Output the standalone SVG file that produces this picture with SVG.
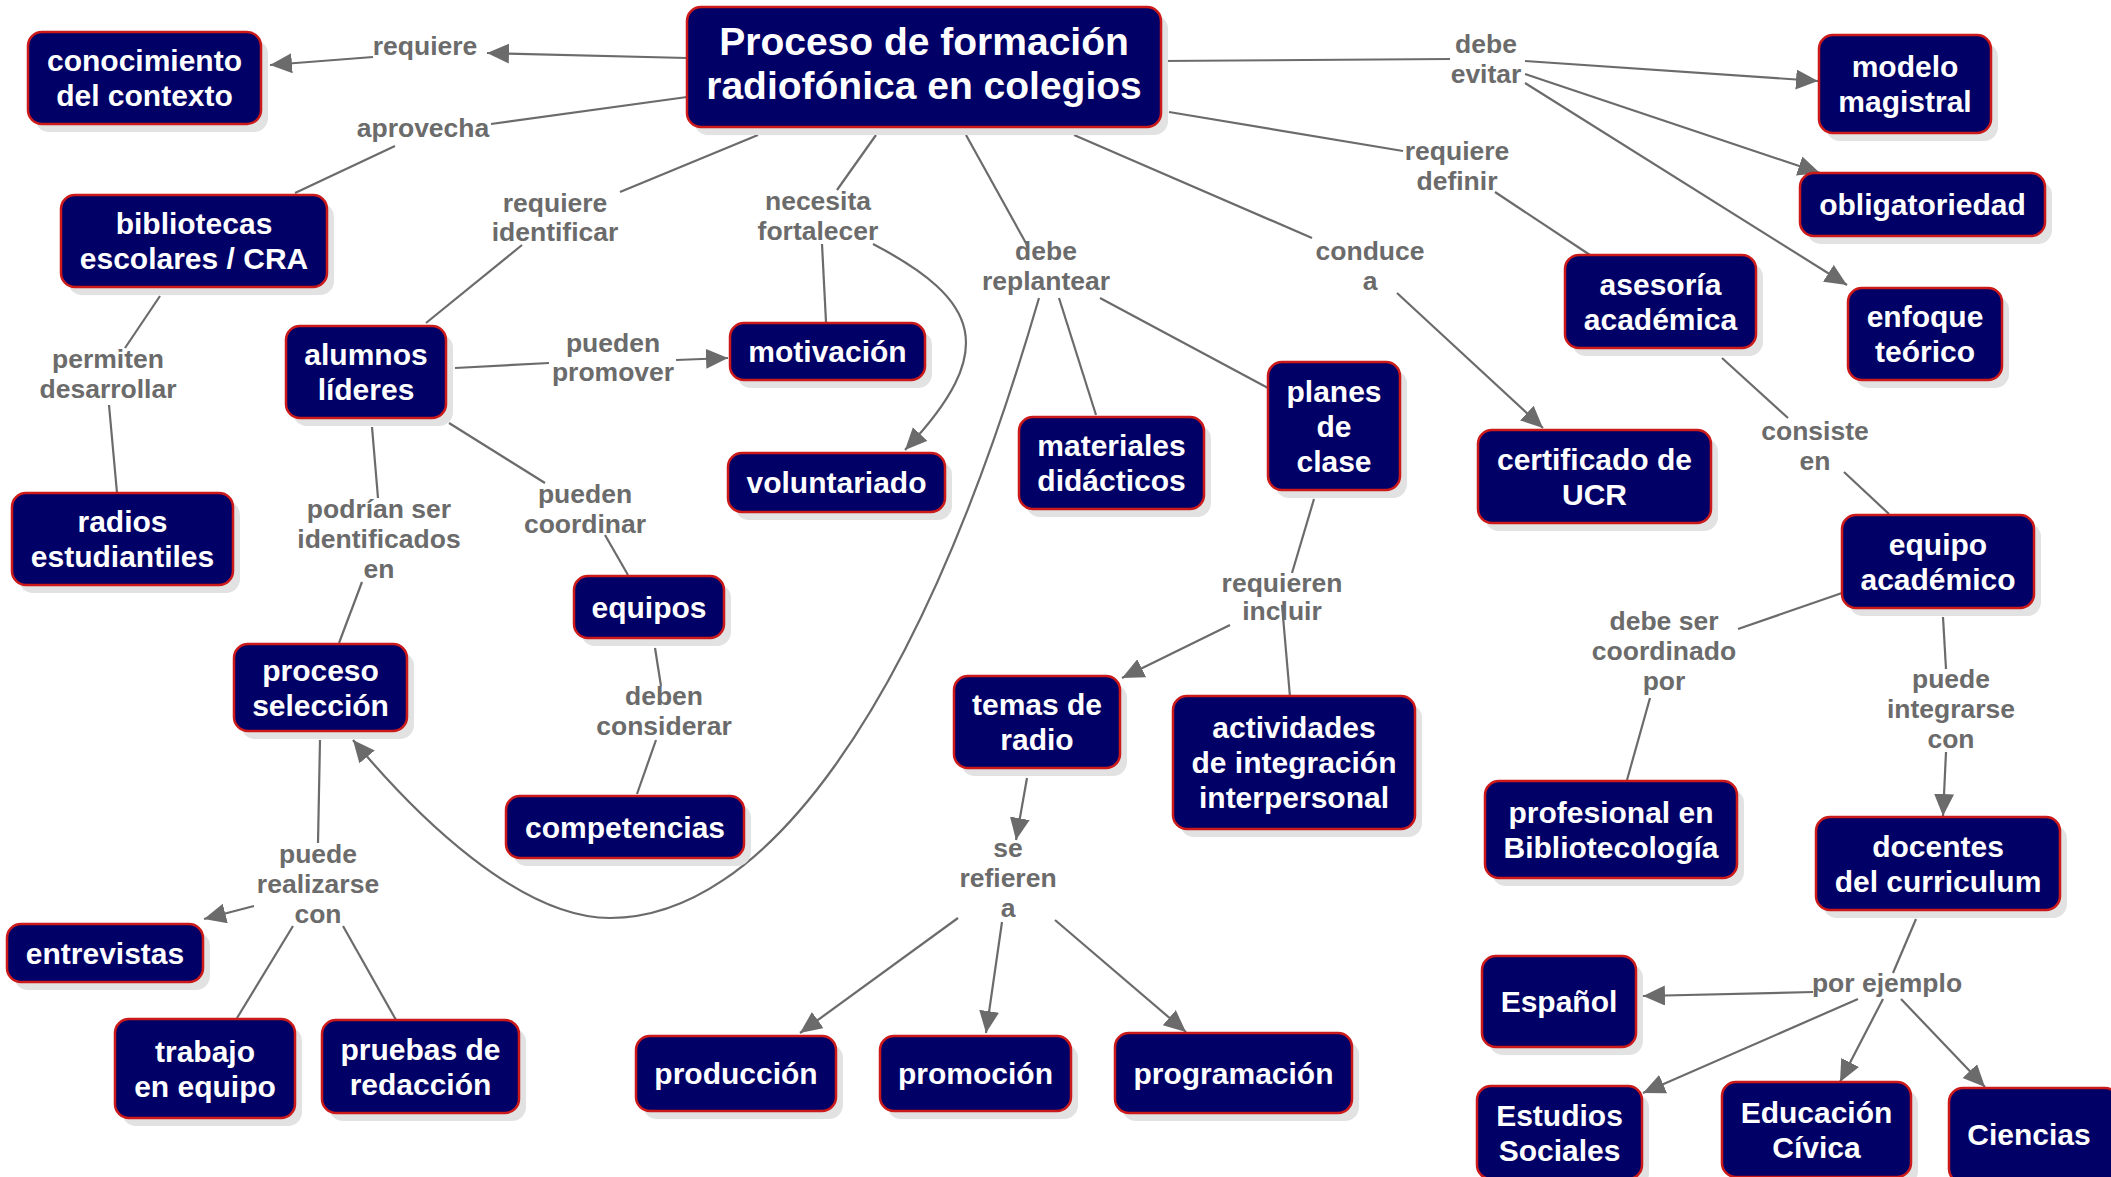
<svg xmlns="http://www.w3.org/2000/svg" width="2111" height="1177" viewBox="0 0 2111 1177">
<defs>
<style>
.box{fill:#000066;stroke:#cc1a1a;stroke-width:2.5}
.sh{fill:#e2e2e2}
.nt{font-family:"Liberation Sans",Arial,sans-serif;font-weight:bold;font-size:30px;fill:#ffffff;text-anchor:middle}
.mt{font-size:39px}
.lb{font-family:"Liberation Sans",Arial,sans-serif;font-weight:bold;font-size:26.5px;fill:#6b6b6b;text-anchor:middle}
.c{fill:none;stroke:#6b6b6b;stroke-width:2.2}
.a{marker-end:url(#ah)}
</style>
<marker id="ah" markerUnits="userSpaceOnUse" markerWidth="24" markerHeight="22" refX="22" refY="10" orient="auto"><path d="M0,0 L22,10 L0,20 z" fill="#6b6b6b"/></marker>
</defs>
<rect width="2111" height="1177" fill="#ffffff"/>

<g id="connectors">
<path class="c a" d="M687,58 L487,53"/>
<path class="c a" d="M373,57 L270,65"/>
<path class="c" d="M687,97 L491,124"/>
<path class="c" d="M395,146 L295,193"/>
<path class="c" d="M758,135 L620,192"/>
<path class="c" d="M522,245 L426,323"/>
<path class="c" d="M160,296 L125,348"/>
<path class="c" d="M109,405 L117,493"/>
<path class="c" d="M455,368 L549,363"/>
<path class="c a" d="M676,360 L728,358"/>
<path class="c" d="M876,135 L837,190"/>
<path class="c" d="M822,244 L826,322"/>
<path class="c a" d="M873,244 C980,300 1000,350 905,450"/>
<path class="c" d="M966,135 L1027,245"/>
<path class="c" d="M1059,298 L1096,415"/>
<path class="c" d="M1100,298 L1268,388"/>
<path class="c a" d="M1039,298 C917,718 760,918 610,918 C520,918 417,817 353,740"/>
<path class="c" d="M1074,135 L1312,238"/>
<path class="c a" d="M1397,293 L1543,428"/>
<path class="c" d="M1169,112 L1403,151"/>
<path class="c" d="M1495,192 L1590,255"/>
<path class="c" d="M1722,358 L1788,418"/>
<path class="c" d="M1844,472 L1889,514"/>
<path class="c" d="M1161,61 L1450,59"/>
<path class="c a" d="M1525,61 L1818,81"/>
<path class="c a" d="M1525,74 L1820,173"/>
<path class="c a" d="M1525,83 L1847,285"/>
<path class="c" d="M1842,593 L1738,629"/>
<path class="c" d="M1650,698 L1627,780"/>
<path class="c" d="M1943,617 L1946,669"/>
<path class="c a" d="M1946,752 L1943,816"/>
<path class="c" d="M1916,919 L1893,973"/>
<path class="c a" d="M1813,992 L1643,996"/>
<path class="c a" d="M1858,999 L1643,1093"/>
<path class="c a" d="M1883,999 L1840,1082"/>
<path class="c a" d="M1901,999 L1985,1087"/>
<path class="c" d="M372,427 L378,498"/>
<path class="c" d="M362,582 L339,643"/>
<path class="c" d="M449,423 L545,483"/>
<path class="c" d="M605,535 L628,575"/>
<path class="c" d="M655,648 L661,686"/>
<path class="c" d="M656,740 L637,794"/>
<path class="c" d="M320,740 L318,843"/>
<path class="c a" d="M254,906 L204,919"/>
<path class="c" d="M293,926 L237,1018"/>
<path class="c" d="M343,926 L396,1020"/>
<path class="c" d="M1314,499 L1292,573"/>
<path class="c a" d="M1230,625 L1122,678"/>
<path class="c" d="M1282,605 L1290,697"/>
<path class="c a" d="M1027,778 L1016,840"/>
<path class="c a" d="M958,918 L800,1033"/>
<path class="c a" d="M1002,922 L986,1033"/>
<path class="c a" d="M1055,920 L1186,1032"/>
</g>

<g id="labels">
<text class="lb" x="425" y="55">requiere</text>
<text class="lb" x="423" y="137">aprovecha</text>
<text class="lb"><tspan x="555" y="212">requiere</tspan><tspan x="555" y="241">identificar</tspan></text>
<text class="lb"><tspan x="818" y="210">necesita</tspan><tspan x="818" y="240">fortalecer</tspan></text>
<text class="lb"><tspan x="1046" y="260">debe</tspan><tspan x="1046" y="290">replantear</tspan></text>
<text class="lb"><tspan x="1370" y="260">conduce</tspan><tspan x="1370" y="290">a</tspan></text>
<text class="lb"><tspan x="1457" y="160">requiere</tspan><tspan x="1457" y="190">definir</tspan></text>
<text class="lb"><tspan x="1486" y="53">debe</tspan><tspan x="1486" y="83">evitar</tspan></text>
<text class="lb"><tspan x="108" y="368">permiten</tspan><tspan x="108" y="398">desarrollar</tspan></text>
<text class="lb"><tspan x="613" y="352">pueden</tspan><tspan x="613" y="381">promover</tspan></text>
<text class="lb"><tspan x="379" y="518">podrían ser</tspan><tspan x="379" y="548">identificados</tspan><tspan x="379" y="578">en</tspan></text>
<text class="lb"><tspan x="585" y="503">pueden</tspan><tspan x="585" y="533">coordinar</tspan></text>
<text class="lb"><tspan x="664" y="705">deben</tspan><tspan x="664" y="735">considerar</tspan></text>
<text class="lb"><tspan x="318" y="863">puede</tspan><tspan x="318" y="893">realizarse</tspan><tspan x="318" y="923">con</tspan></text>
<text class="lb"><tspan x="1282" y="592">requieren</tspan><tspan x="1282" y="620">incluir</tspan></text>
<text class="lb"><tspan x="1008" y="857">se</tspan><tspan x="1008" y="887">refieren</tspan><tspan x="1008" y="917">a</tspan></text>
<text class="lb"><tspan x="1815" y="440">consiste</tspan><tspan x="1815" y="470">en</tspan></text>
<text class="lb"><tspan x="1664" y="630">debe ser</tspan><tspan x="1664" y="660">coordinado</tspan><tspan x="1664" y="690">por</tspan></text>
<text class="lb"><tspan x="1951" y="688">puede</tspan><tspan x="1951" y="718">integrarse</tspan><tspan x="1951" y="748">con</tspan></text>
<text class="lb" x="1887" y="992">por ejemplo</text>
</g>

<g id="n-main"><rect class="sh" x="694" y="15" width="474" height="120" rx="14"/><rect class="box" x="687" y="7" width="474" height="120" rx="14"/><text class="nt mt"><tspan x="924" y="55">Proceso de formación</tspan><tspan x="924" y="99">radiofónica en colegios</tspan></text></g>
<g id="n-conocimiento"><rect class="sh" x="35" y="40" width="233" height="92" rx="14"/><rect class="box" x="28" y="32" width="233" height="92" rx="14"/><text class="nt"><tspan x="144.5" y="71">conocimiento</tspan><tspan x="144.5" y="106">del contexto</tspan></text></g>
<g id="n-bibliotecas"><rect class="sh" x="68" y="203" width="266" height="92" rx="14"/><rect class="box" x="61" y="195" width="266" height="92" rx="14"/><text class="nt"><tspan x="194" y="234">bibliotecas</tspan><tspan x="194" y="269">escolares / CRA</tspan></text></g>
<g id="n-radios"><rect class="sh" x="19" y="501" width="221" height="92" rx="14"/><rect class="box" x="12" y="493" width="221" height="92" rx="14"/><text class="nt"><tspan x="122.5" y="532">radios</tspan><tspan x="122.5" y="567">estudiantiles</tspan></text></g>
<g id="n-alumnos"><rect class="sh" x="293" y="334" width="160" height="92" rx="14"/><rect class="box" x="286" y="326" width="160" height="92" rx="14"/><text class="nt"><tspan x="366" y="365">alumnos</tspan><tspan x="366" y="400">líderes</tspan></text></g>
<g id="n-motivacion"><rect class="sh" x="737" y="331" width="195" height="57" rx="14"/><rect class="box" x="730" y="323" width="195" height="57" rx="14"/><text class="nt" x="827.5" y="362">motivación</text></g>
<g id="n-voluntariado"><rect class="sh" x="735" y="461" width="217" height="59" rx="14"/><rect class="box" x="728" y="453" width="217" height="59" rx="14"/><text class="nt" x="836.5" y="493">voluntariado</text></g>
<g id="n-materiales"><rect class="sh" x="1026" y="425" width="185" height="92" rx="14"/><rect class="box" x="1019" y="417" width="185" height="92" rx="14"/><text class="nt"><tspan x="1111.5" y="456">materiales</tspan><tspan x="1111.5" y="491">didácticos</tspan></text></g>
<g id="n-planes"><rect class="sh" x="1275" y="370" width="132" height="128" rx="14"/><rect class="box" x="1268" y="362" width="132" height="128" rx="14"/><text class="nt"><tspan x="1334" y="401.5">planes</tspan><tspan x="1334" y="436.5">de</tspan><tspan x="1334" y="471.5">clase</tspan></text></g>
<g id="n-certificado"><rect class="sh" x="1485" y="438" width="233" height="93" rx="14"/><rect class="box" x="1478" y="430" width="233" height="93" rx="14"/><text class="nt"><tspan x="1594.5" y="469.5">certificado de</tspan><tspan x="1594.5" y="504.5">UCR</tspan></text></g>
<g id="n-asesoria"><rect class="sh" x="1572" y="263" width="191" height="93" rx="14"/><rect class="box" x="1565" y="255" width="191" height="93" rx="14"/><text class="nt"><tspan x="1660.5" y="294.5">asesoría</tspan><tspan x="1660.5" y="329.5">académica</tspan></text></g>
<g id="n-modelo"><rect class="sh" x="1826" y="43" width="172" height="98" rx="14"/><rect class="box" x="1819" y="35" width="172" height="98" rx="14"/><text class="nt"><tspan x="1905" y="77">modelo</tspan><tspan x="1905" y="112">magistral</tspan></text></g>
<g id="n-obligatoriedad"><rect class="sh" x="1807" y="181" width="245" height="63" rx="14"/><rect class="box" x="1800" y="173" width="245" height="63" rx="14"/><text class="nt" x="1922.5" y="215">obligatoriedad</text></g>
<g id="n-enfoque"><rect class="sh" x="1855" y="296" width="154" height="92" rx="14"/><rect class="box" x="1848" y="288" width="154" height="92" rx="14"/><text class="nt"><tspan x="1925" y="327">enfoque</tspan><tspan x="1925" y="362">teórico</tspan></text></g>
<g id="n-equipo-academico"><rect class="sh" x="1849" y="523" width="192" height="93" rx="14"/><rect class="box" x="1842" y="515" width="192" height="93" rx="14"/><text class="nt"><tspan x="1938" y="554.5">equipo</tspan><tspan x="1938" y="589.5">académico</tspan></text></g>
<g id="n-profesional"><rect class="sh" x="1492" y="789" width="252" height="97" rx="14"/><rect class="box" x="1485" y="781" width="252" height="97" rx="14"/><text class="nt"><tspan x="1611" y="822.5">profesional en</tspan><tspan x="1611" y="857.5">Bibliotecología</tspan></text></g>
<g id="n-docentes"><rect class="sh" x="1823" y="825" width="244" height="93" rx="14"/><rect class="box" x="1816" y="817" width="244" height="93" rx="14"/><text class="nt"><tspan x="1938" y="856.5">docentes</tspan><tspan x="1938" y="891.5">del curriculum</tspan></text></g>
<g id="n-espanol"><rect class="sh" x="1489" y="964" width="154" height="91" rx="14"/><rect class="box" x="1482" y="956" width="154" height="91" rx="14"/><text class="nt" x="1559" y="1012">Español</text></g>
<g id="n-estudios"><rect class="sh" x="1484" y="1094" width="165" height="93" rx="14"/><rect class="box" x="1477" y="1086" width="165" height="93" rx="14"/><text class="nt"><tspan x="1559.5" y="1125.5">Estudios</tspan><tspan x="1559.5" y="1160.5">Sociales</tspan></text></g>
<g id="n-educacion"><rect class="sh" x="1729" y="1090" width="189" height="95" rx="14"/><rect class="box" x="1722" y="1082" width="189" height="95" rx="14"/><text class="nt"><tspan x="1816.5" y="1122.5">Educación</tspan><tspan x="1816.5" y="1157.5">Cívica</tspan></text></g>
<g id="n-ciencias"><rect class="sh" x="1956" y="1096" width="170" height="95" rx="14"/><rect class="box" x="1949" y="1088" width="170" height="95" rx="14"/><text class="nt" x="2029" y="1145">Ciencias</text></g>
<g id="n-temas"><rect class="sh" x="961" y="684" width="166" height="92" rx="14"/><rect class="box" x="954" y="676" width="166" height="92" rx="14"/><text class="nt"><tspan x="1037" y="715">temas de</tspan><tspan x="1037" y="750">radio</tspan></text></g>
<g id="n-actividades"><rect class="sh" x="1180" y="704" width="242" height="133" rx="14"/><rect class="box" x="1173" y="696" width="242" height="133" rx="14"/><text class="nt"><tspan x="1294" y="738">actividades</tspan><tspan x="1294" y="773">de integración</tspan><tspan x="1294" y="808">interpersonal</tspan></text></g>
<g id="n-equipos"><rect class="sh" x="581" y="584" width="150" height="62" rx="14"/><rect class="box" x="574" y="576" width="150" height="62" rx="14"/><text class="nt" x="649" y="617.5">equipos</text></g>
<g id="n-competencias"><rect class="sh" x="513" y="804" width="238" height="62" rx="14"/><rect class="box" x="506" y="796" width="238" height="62" rx="14"/><text class="nt" x="625" y="837.5">competencias</text></g>
<g id="n-proceso-seleccion"><rect class="sh" x="241" y="652" width="173" height="87" rx="14"/><rect class="box" x="234" y="644" width="173" height="87" rx="14"/><text class="nt"><tspan x="320.5" y="680.5">proceso</tspan><tspan x="320.5" y="715.5">selección</tspan></text></g>
<g id="n-entrevistas"><rect class="sh" x="14" y="932" width="196" height="58" rx="14"/><rect class="box" x="7" y="924" width="196" height="58" rx="14"/><text class="nt" x="105" y="963.5">entrevistas</text></g>
<g id="n-trabajo"><rect class="sh" x="122" y="1027" width="180" height="99" rx="14"/><rect class="box" x="115" y="1019" width="180" height="99" rx="14"/><text class="nt"><tspan x="205" y="1061.5">trabajo</tspan><tspan x="205" y="1096.5">en equipo</tspan></text></g>
<g id="n-pruebas"><rect class="sh" x="329" y="1028" width="197" height="93" rx="14"/><rect class="box" x="322" y="1020" width="197" height="93" rx="14"/><text class="nt"><tspan x="420.5" y="1059.5">pruebas de</tspan><tspan x="420.5" y="1094.5">redacción</tspan></text></g>
<g id="n-produccion"><rect class="sh" x="643" y="1044" width="200" height="75" rx="14"/><rect class="box" x="636" y="1036" width="200" height="75" rx="14"/><text class="nt" x="736" y="1084">producción</text></g>
<g id="n-promocion"><rect class="sh" x="887" y="1044" width="191" height="75" rx="14"/><rect class="box" x="880" y="1036" width="191" height="75" rx="14"/><text class="nt" x="975.5" y="1084">promoción</text></g>
<g id="n-programacion"><rect class="sh" x="1122" y="1041" width="237" height="80" rx="14"/><rect class="box" x="1115" y="1033" width="237" height="80" rx="14"/><text class="nt" x="1233.5" y="1083.5">programación</text></g>
</svg>
